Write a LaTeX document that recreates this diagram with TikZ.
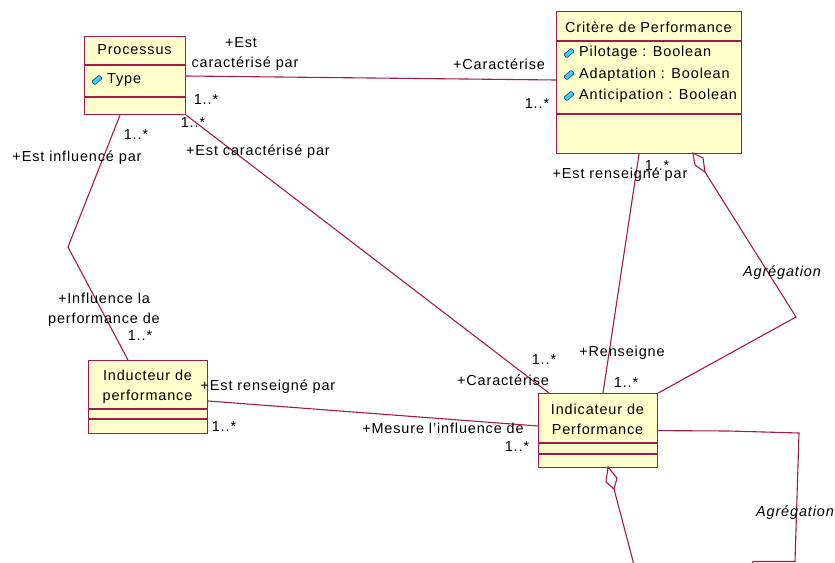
\documentclass[tikz,border=0pt]{standalone}
\usepackage{fontspec}
\setmainfont[LetterSpace=6]{Liberation Sans}
\usetikzlibrary{calc}
\definecolor{umlline}{RGB}{165,25,75}
\definecolor{umlfill}{RGB}{255,255,204}
\definecolor{attrfill}{RGB}{60,205,240}
\definecolor{attrdraw}{RGB}{20,60,170}
\tikzset{
  classbox/.style={draw=umlline, fill=umlfill, line width=1.2bp, inner sep=0pt, anchor=north west},
  divider/.style={draw=umlline, line width=1.2bp},
  assoc/.style={draw=umlline, line width=1.1bp},
  aggdiamond/.style={draw=umlline, line width=1.1bp, fill=white},
  lbl/.style={inner sep=0pt, font=\fontsize{14.5}{20.5}\selectfont, align=center},
  ilbl/.style={lbl, font=\fontsize{14.5}{20.5}\selectfont\itshape},
  attricon/.style={draw=attrdraw, fill=attrfill, line width=0.6bp, rounded corners=1bp,
    minimum width=10bp, minimum height=4.5bp, inner sep=0pt, rotate=40},
}
\begin{document}
\begin{tikzpicture}[x=1bp,y=-1bp]
\useasboundingbox (0,0) rectangle (835,563);
\clip (0,0) rectangle (835,563);

% ---- classes ----
\node[classbox, minimum width=101bp, minimum height=78bp] (proc) at (84,36) {};
\draw[divider] (84,65) -- (185,65) (84,97) -- (185,97);
\node[lbl] (procT) at (134.5,50) {Processus};
\node[attricon] (procA1) at (97,80) {};
\node[lbl, anchor=west] (procA1t) at (107,80) {Type};

\node[classbox, minimum width=185bp, minimum height=142bp] (crit) at (556,11) {};
\draw[divider] (556,41) -- (741,41) (556,114) -- (741,114);
\node[lbl] (critT) at (648.5,27) {Critère de Performance};
\node[attricon] (critA1) at (569,53) {};
\node[lbl, anchor=west] (critA1t) at (579,53) {Pilotage : Boolean};
\node[attricon] (critA2) at (569,75) {};
\node[lbl, anchor=west] (critA2t) at (579,75) {Adaptation : Boolean};
\node[attricon] (critA3) at (569,96) {};
\node[lbl, anchor=west] (critA3t) at (579,96) {Anticipation : Boolean};

\node[classbox, minimum width=119bp, minimum height=73bp] (indu) at (88,360) {};
\draw[divider] (88,409) -- (207,409) (88,419) -- (207,419);
\node[lbl] (induT) at (147.5,387) {Inducteur de\\performance};

\node[classbox, minimum width=119bp, minimum height=74bp] (indic) at (538,393) {};
\draw[divider] (538,443) -- (657,443) (538,454) -- (657,454);
\node[lbl] (indicT) at (597.5,419.5) {Indicateur de\\Performance};

% ---- associations ----
\draw[assoc] ([yshift=-40bp]proc.north east) -- ([yshift=-69bp]crit.north west);
\coordinate (bendInf) at (68,247);
\draw[assoc] ([xshift=36bp]proc.south west) -- (bendInf) -- ([xshift=40bp]indu.north west);
\draw[assoc] (proc.south east) -- ([xshift=11bp]indic.north west);
\draw[assoc] ([yshift=-41bp]indu.north east) -- ([yshift=-33bp]indic.north west);
\draw[assoc] ([xshift=83bp]crit.south west) -- ([xshift=65bp]indic.north west);

% aggregation: critère -> indicateur
\coordinate (aggTop) at (693,153);
\coordinate (aggTip) at (705,172);
\coordinate (aggBend) at (796,317);
\draw[aggdiamond] (aggTop) -- (695,165) -- (aggTip) -- (703,158) -- cycle;
\draw[assoc] (aggTip) -- (aggBend) -- (indic.north east);

% self aggregation on indicateur
\coordinate (selfA) at (728,431);
\coordinate (selfB) at (799,433);
\coordinate (selfC) at (795,561.5);
\coordinate (selfD) at (753,561.5);
\coordinate (selfE) at (745,590);
\draw[assoc] (indic.east) -- (selfA) -- (selfB) -- (selfC) -- (selfD) -- (selfE);
\coordinate (sTop) at (608,467);
\coordinate (sTip) at (614,489);
\coordinate (sEnd) at (638,580);
\draw[aggdiamond] (sTop) -- (606,482) -- (sTip) -- (617,478) -- cycle;
\draw[assoc] (sTip) -- (sEnd);

% ---- role names and multiplicities ----
\node[lbl] (r1a) at (241,43) {+Est};
\node[lbl] (r1b) at (245,64) {caractérisé par};
\node[lbl] (m1a) at (206,100) {1..*};
\node[lbl] (r1c) at (499,64) {+Caractérise};
\node[lbl] (m1b) at (537,104) {1..*};

\node[lbl] (m2a) at (136,135) {1..*};
\node[lbl] (r2a) at (77,158) {+Est influencé par};
\node[lbl] (r2b) at (104,309.5) {+Influence la\\performance de};
\node[lbl] (m2b) at (140,336) {1..*};

\node[lbl] (m3a) at (193,123) {1..*};
\node[lbl] (r3a) at (258,152) {+Est caractérisé par};
\node[lbl] (m3b) at (544,360) {1..*};
\node[lbl] (r3b) at (503,380) {+Caractérise};

\node[lbl] (r4a) at (268,387) {+Est renseigné par};
\node[lbl] (m4a) at (224,427) {1..*};
\node[lbl] (r4b) at (443,428) {+Mesure l'influence de};
\node[lbl] (m4b) at (517,447) {1..*};

\node[lbl] (r5a) at (620,175) {+Est renseigné par};
\node[lbl] (m5a) at (657,166) {1..*};
\node[lbl] (r5b) at (622,353) {+Renseigne};
\node[lbl] (m5b) at (626,383) {1..*};

\node[ilbl] (agg1) at (782,273) {Agrégation};
\node[ilbl] (agg2) at (795,513) {Agrégation};
\end{tikzpicture}
\end{document}
